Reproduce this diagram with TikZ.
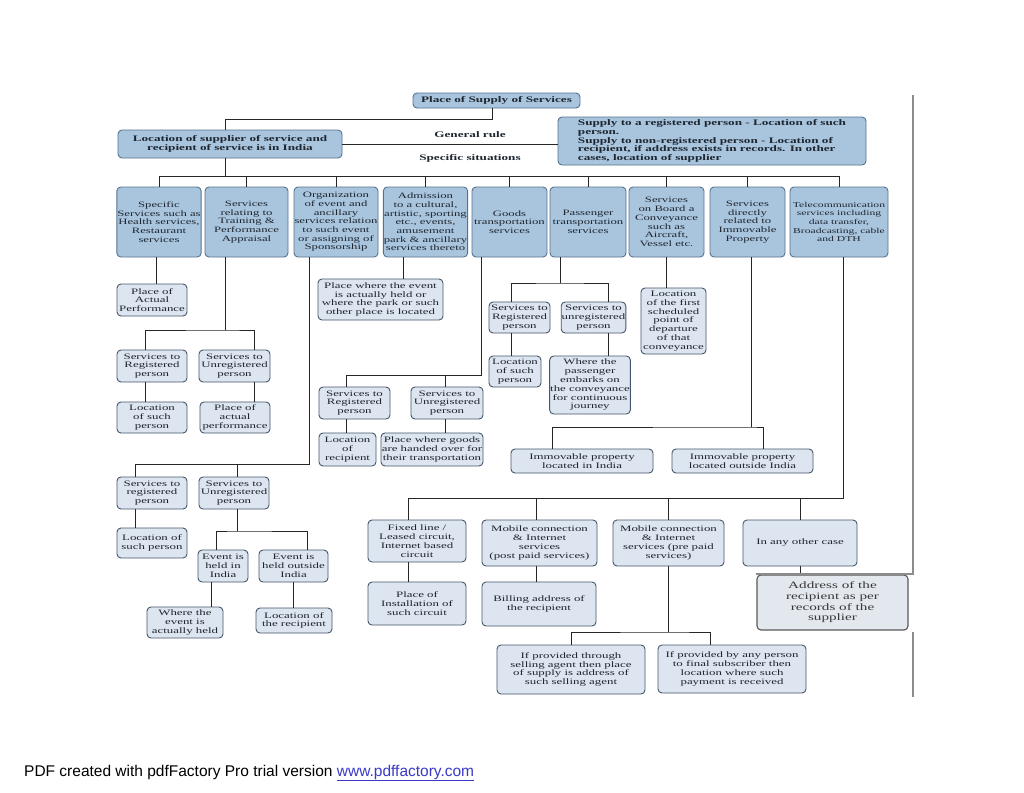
\documentclass[tikz,border=0pt]{standalone}
\usepackage{fontspec}
\setmainfont[FakeStretch=1.55]{Liberation Serif}
\newfontfamily\footfont{Liberation Sans}
\definecolor{topfill}{HTML}{A9C5DE}
\definecolor{topdraw}{HTML}{56728F}
\definecolor{leaffill}{HTML}{DDE6F0}
\definecolor{leafdraw}{HTML}{46566A}
\definecolor{addrfill}{HTML}{E3E8EF}
\definecolor{linkblue}{HTML}{3A3AC8}
\definecolor{txt}{HTML}{1E2630}
\begin{document}
\begin{tikzpicture}[x=1pt,y=-1pt,
  base/.style={rounded corners=4pt, align=center, inner sep=0.5pt, line width=0.9pt, text=txt},
  topb/.style={base, draw=topdraw, fill=topfill, font=\bfseries\fontsize{8.5}{8.8}\selectfont},
  catb/.style={base, draw=topdraw, fill=topfill, font=\fontsize{8.2}{8.7}\selectfont},
  leaf/.style={base, draw=leafdraw, fill=leaffill, font=\fontsize{8.3}{8.8}\selectfont},
  addr/.style={base, draw=black!65, fill=addrfill, line width=1.1pt, font=\fontsize{9.8}{10.7}\selectfont, text=black!78},
  sz/.style 2 args={minimum width=#1pt, minimum height=#2pt},
  wire/.style={line width=1pt, draw=black!85},
  lbl/.style={font=\bfseries\fontsize{8.5}{9}\selectfont, inner sep=0pt, text=txt},
  frame/.style={draw=black!45, line width=2.4pt}]
\fill[white] (0,0) rectangle (1024,792);
\useasboundingbox (0,0) rectangle (1024,792);

% top level
\node[topb, sz={167}{15}] (T) at (496.5,100.5) {Place of Supply of Services};
\node[topb, sz={224}{28}] (L) at (230,144) {Location of supplier of service and\\recipient of service is in India};
\node[topb, sz={308}{48}, align=left] (R) at (712,141) {Supply to a registered person - Location of such\\person.\\Supply to non-registered person - Location of\\recipient, if address exists in records. In other\\cases, location of supplier};
\node[lbl] (gr) at (470,135) {General rule};
\node[lbl] (ss) at (470,158) {Specific situations};

% categories
\node[catb, sz={84}{70}] (c1) at (159,222) {Specific\\Services such as\\Health services,\\Restaurant\\services};
\node[catb, sz={83}{70}] (c2) at (246.5,222) {Services\\relating to\\Training \&\\Performance\\Appraisal};
\node[catb, sz={84}{70}] (c3) at (336,222) {Organization\\of event and\\ancillary\\services relation\\to such event\\or assigning of\\Sponsorship};
\node[catb, sz={83}{70}] (c4) at (425.5,222) {Admission\\to a cultural,\\artistic, sporting\\etc., events,\\amusement\\park \& ancillary\\services thereto};
\node[catb, sz={75}{70}] (c5) at (509.5,222) {Goods\\transportation\\services};
\node[catb, sz={76}{70}] (c6) at (588,222) {Passenger\\transportation\\services};
\node[catb, sz={75}{70}] (c7) at (666.5,222) {Services\\on Board a\\Conveyance\\such as\\Aircraft,\\Vessel etc.};
\node[catb, sz={75}{70}] (c8) at (747.5,222) {Services\\directly\\related to\\Immovable\\Property};
\node[catb, sz={98}{70}, font=\fontsize{7.5}{8.7}\selectfont] (c9) at (839,222) {Telecommunication\\services including\\data transfer,\\Broadcasting, cable\\and DTH};

% leaves
\node[leaf, sz={70}{32}] (p1) at (152,300) {Place of\\Actual\\Performance};
\node[leaf, sz={70}{32}] (r2) at (152,366) {Services to\\Registered\\person};
\node[leaf, sz={71}{32}] (u2) at (234.5,366) {Services to\\Unregistered\\person};
\node[leaf, sz={70}{31}] (l2) at (152,417.5) {Location\\of such\\person};
\node[leaf, sz={70}{31}] (a2) at (235,417.5) {Place of\\actual\\performance};
\node[leaf, sz={125}{41}] (e4) at (380.5,299.5) {Place where the event\\is actually held or\\where the park or such\\other place is located};
\node[leaf, sz={71}{32}] (r5) at (354.5,403) {Services to\\Registered\\person};
\node[leaf, sz={72}{32}] (u5) at (447,403) {Services to\\Unregistered\\person};
\node[leaf, sz={57}{33}] (l5) at (347.5,449.5) {Location\\of\\recipient};
\node[leaf, sz={102}{33}] (g5) at (432,449.5) {Place where goods\\are handed over for\\their transportation};
\node[leaf, sz={61}{31}] (r6) at (519.5,317.5) {Services to\\Registered\\person};
\node[leaf, sz={63}{31}] (u6) at (593.5,317.5) {Services to\\unregistered\\person};
\node[leaf, sz={52}{31}] (l6) at (515,371.5) {Location\\of such\\person};
\node[leaf, sz={80}{58}] (w6) at (590,385) {Where the\\passenger\\embarks on\\the conveyance\\for continuous\\journey};
\node[leaf, sz={65}{66}] (f7) at (673.5,321) {Location\\of the first\\scheduled\\point of\\departure\\of that\\conveyance};
\node[leaf, sz={142}{24}] (i8) at (582,461) {Immovable property\\located in India};
\node[leaf, sz={141}{24}] (o8) at (742.5,461) {Immovable property\\located outside India};
\node[leaf, sz={70}{32}] (r3) at (152,493) {Services to\\registered\\person};
\node[leaf, sz={70}{32}] (u3) at (234,493) {Services to\\Unregistered\\person};
\node[leaf, sz={70}{30}] (l3) at (152,543) {Location of\\such person};
\node[leaf, sz={50}{32}] (h3) at (223,566) {Event is\\held in\\India};
\node[leaf, sz={69}{32}] (x3) at (293.5,566) {Event is\\held outside\\India};
\node[leaf, sz={76}{31}] (w3) at (185,622.5) {Where the\\event is\\actually held};
\node[leaf, sz={76}{25}] (t3) at (294,620.5) {Location of\\the recipient};
\node[leaf, sz={98}{42}] (b1) at (417,541) {Fixed line /\\Leased circuit,\\Internet based\\circuit};
\node[leaf, sz={115}{46}] (b2) at (539.5,543) {Mobile connection\\\& Internet\\services\\(post paid services)};
\node[leaf, sz={111}{46}] (b3) at (668.5,543) {Mobile connection\\\& Internet\\services (pre paid\\services)};
\node[leaf, sz={114}{46}] (b4) at (800,543) {In any other case};
\node[leaf, sz={98}{43}] (d1) at (417,603.5) {Place of\\Installation of\\such circuit};
\node[leaf, sz={114}{44}] (d2) at (539,604) {Billing address of\\the recipient};
\node[addr, sz={151}{55}] (d4) at (832.5,602.5) {Address of the\\recipient as per\\records of the\\supplier};
\node[leaf, sz={148}{49}] (s1) at (571,669.5) {If provided through\\selling agent then place\\of supply is address of\\such selling agent};
\node[leaf, sz={148}{48}] (s2) at (732,669) {If provided by any person\\to final subscriber then\\location where such\\payment is received};

% connectors
\coordinate (kt) at (492,119);
\draw[wire] (T.south -| kt) -- (kt) -| ([xshift=-5pt]L.north);
\draw[wire] (L.east) -- (L.east -| R.west);
\coordinate (kb) at (226,176);
\draw[wire] ([xshift=-5pt]L.south) -- ([xshift=-5pt]L.south |- kb);
\draw[wire] (c1.north) -- (c1.north |- kb) -- (c9.north |- kb) -- (c9.north);
\foreach \n in {c2,c3,c4,c5,c6,c7,c8} \draw[wire] (\n.north) -- (\n.north |- kb);

\draw[wire] ([xshift=-3pt]c1.south) -- ([xshift=-3pt]c1.south |- p1.north);

\coordinate (k2) at (225,330);
\draw[wire] (c2.south -| k2) -- (k2);
\draw[wire] ([xshift=-7pt]r2.north) |- (k2) -| ([xshift=20pt]u2.north);
\draw[wire] ([xshift=-7pt]r2.south) -- ([xshift=-7pt]l2.north);
\draw[wire] ([xshift=20pt]u2.south) -- ([xshift=20pt]u2.south |- a2.north);

\coordinate (k3) at (309,464);
\draw[wire] (c3.south -| k3) -- (k3) -| ([xshift=-17pt]r3.north);
\draw[wire] ([xshift=3pt]u3.north) -- ([xshift=3pt]u3.north |- k3);
\draw[wire] ([xshift=-17pt]r3.south) -- ([xshift=-17pt]r3.south |- l3.north);
\coordinate (k3b) at (237,531);
\draw[wire] ([xshift=3pt]u3.south) -- (k3b);
\draw[wire] ([xshift=-7pt]h3.north) |- (k3b) -| ([xshift=13.5pt]x3.north);
\draw[wire] ([xshift=-12pt]h3.south) -- ([xshift=-12pt]h3.south |- w3.north);
\draw[wire] (x3.south) -- (x3.south |- t3.north);

\draw[wire] ([xshift=-22.5pt]c4.south) -- ([xshift=-22.5pt]c4.south |- e4.north);

\coordinate (k5) at (481,375);
\draw[wire] (c5.south -| k5) -- (k5) -| ([xshift=-8.5pt]r5.north);
\draw[wire] ([xshift=-2pt]u5.north) -- ([xshift=-2pt]u5.north |- k5);
\draw[wire] ([xshift=-8.5pt]r5.south) -- ([xshift=-8.5pt]r5.south |- l5.north);
\draw[wire] ([xshift=-2pt]u5.south) -- ([xshift=-2pt]u5.south |- g5.north);

\coordinate (k6) at (560,283);
\draw[wire] (c6.south -| k6) -- (k6);
\draw[wire] ([xshift=-8.5pt]r6.north) |- (k6) -| ([xshift=14.5pt]u6.north);
\draw[wire] ([xshift=-8.5pt]r6.south) -- ([xshift=-8.5pt]r6.south |- l6.north);
\draw[wire] ([xshift=14.5pt]u6.south) -- ([xshift=14.5pt]u6.south |- w6.north);

\draw[wire] (c7.south) -- (c7.south |- f7.north);

\coordinate (k8) at (751,427);
\draw[wire] (c8.south -| k8) -- (k8);
\draw[wire] ([xshift=-30pt]i8.north) |- (k8) -| ([xshift=20.5pt]o8.north);

\coordinate (k9) at (843,498);
\draw[wire] (c9.south -| k9) -- (k9) -| ([xshift=-9pt]b1.north);
\draw[wire] ([xshift=-3.5pt]b2.north) -- ([xshift=-3.5pt]b2.north |- k9);
\draw[wire] (b3.north) -- (b3.north |- k9);
\draw[wire] (b4.north) -- (b4.north |- k9);
\draw[wire] ([xshift=-9pt]b1.south) -- ([xshift=-9pt]b1.south |- d1.north);
\draw[wire] ([xshift=-3.5pt]b2.south) -- ([xshift=-3.5pt]b2.south |- d2.north);
\draw[wire] (b4.south) -- (b4.south |- d4.north);
\coordinate (kb3) at (668.5,632);
\draw[wire] (b3.south) -- (kb3);
\draw[wire] (s1.north) |- (kb3) -| ([xshift=-22pt]s2.north);

% page frame line
\coordinate (fa) at (913,95);
\coordinate (fb) at (913,574);
\coordinate (fc) at (913,632);
\coordinate (fd) at (913,697);
\draw[frame] (fa) -- (fb) -- (fb -| d4.west);
\draw[frame] (fc) -- (fd);

% footer
\node[anchor=base west, inner sep=0pt, font=\footfont\fontsize{15.5}{18}\selectfont] (foot) at (24,776) {PDF created with pdfFactory Pro trial version \textcolor{linkblue}{\underline{www.pdffactory.com}}};
\end{tikzpicture}
\end{document}
